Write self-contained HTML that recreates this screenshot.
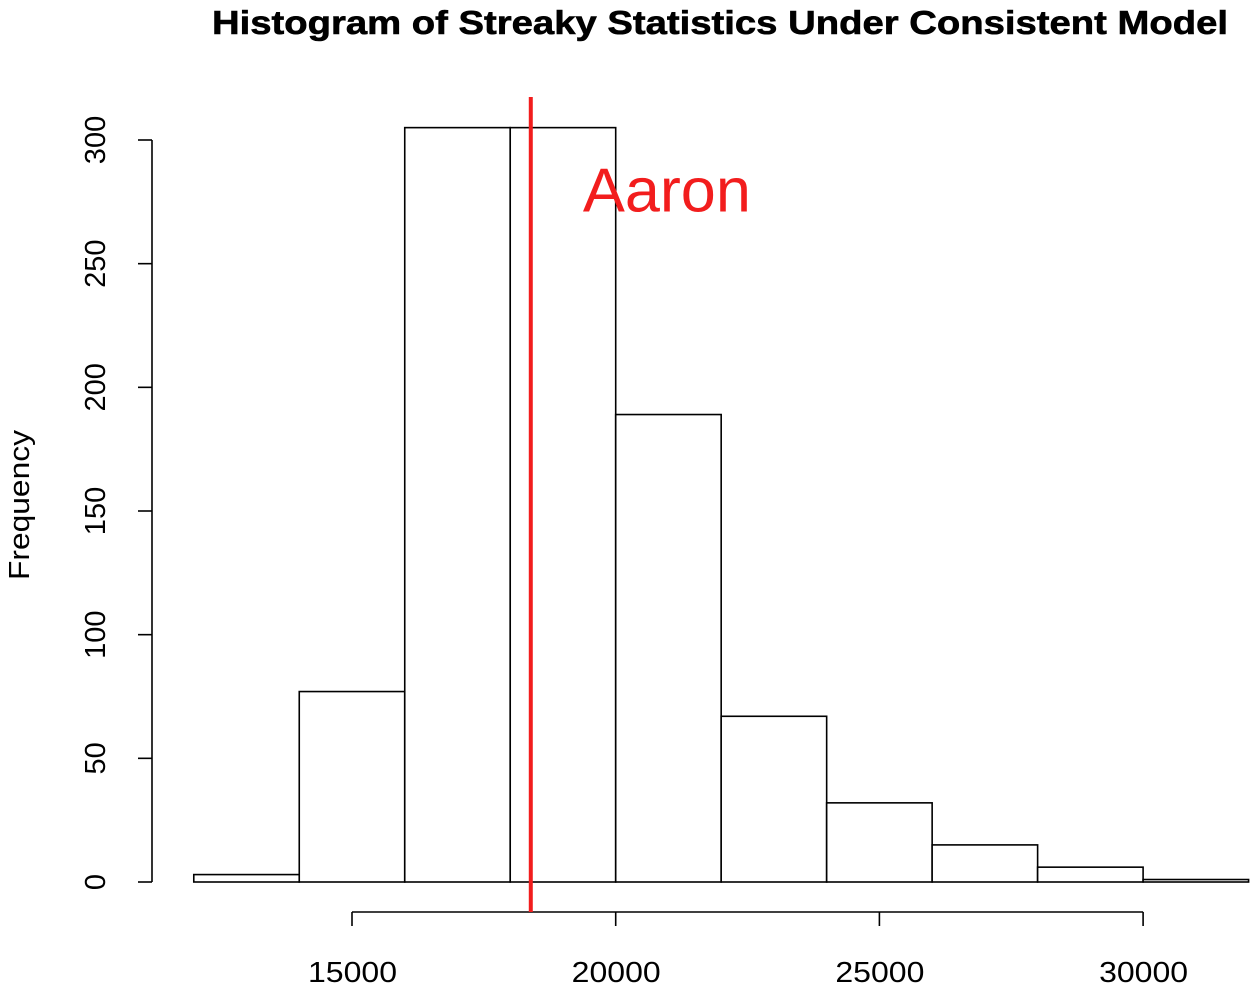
<!DOCTYPE html>
<html><head><meta charset="utf-8"><style>
html,body{margin:0;padding:0;background:#fff;}
svg{display:block;font-family:"Liberation Sans",Arial,sans-serif;}
</style></head><body>
<svg id="chart" width="1254" height="990" viewBox="0 0 1254 990">
<text x="212" y="34" textLength="1016" lengthAdjust="spacingAndGlyphs" font-size="33" font-weight="bold" fill="#000" stroke="#000" stroke-width="0.6">Histogram of Streaky Statistics Under Consistent Model</text>
<text transform="translate(29,505) rotate(-90)" text-anchor="middle" font-size="29" textLength="150" lengthAdjust="spacingAndGlyphs" fill="#000">Frequency</text>
<g id="bars"></g>
<g id="xaxis"></g>
<g id="yaxis"></g>
<g id="marker"></g>
</svg>
<script>
const binStarts = [12000,14000,16000,18000,20000,22000,24000,26000,28000,30000];
const binWidth = 2000;
const counts = [3,77,305,305,189,67,32,15,6,1];
const xTicks = [15000,20000,25000,30000];
const yTicks = [0,50,100,150,200,250,300];
const aaronValue = 18390;
const aaronLabel = "Aaron";
const aaronLabelX = 20970;
const aaronLabelY = 272;

const NS = "http://www.w3.org/2000/svg";
function x(v){ return 352 + (v-15000)*(263.7/5000); }
function y(v){ return 882 - v*(742/300); }
function mk(tag, attrs, parent){ const e=document.createElementNS(NS,tag); for(const k in attrs) e.setAttribute(k,attrs[k]); parent.appendChild(e); return e; }

const bars = document.getElementById('bars');
binStarts.forEach((s,i)=>{
  const r = mk('rect',{x:x(s),y:y(counts[i]),width:x(s+binWidth)-x(s),height:y(0)-y(counts[i]),fill:'#fff',stroke:'#000','stroke-width':1.6},bars);
  
  
});

const xa = document.getElementById('xaxis');
const xl = mk('line',{x1:x(xTicks[0]),x2:x(xTicks[xTicks.length-1]),y1:912,y2:912,stroke:'#000','stroke-width':1.6},xa);


xTicks.forEach(t=>{
  const tk = mk('line',{x1:x(t),x2:x(t),y1:912,y2:926,stroke:'#000','stroke-width':1.6},xa);
  
  
  const tx = mk('text',{x:x(t)-44,y:982,textLength:89,lengthAdjust:'spacingAndGlyphs','font-size':29,fill:'#000'},xa);
  tx.textContent = t;
  
  
});

const ya = document.getElementById('yaxis');
const yl = mk('line',{x1:152,x2:152,y1:y(yTicks[0]),y2:y(yTicks[yTicks.length-1]),stroke:'#000','stroke-width':1.6},ya);


yTicks.forEach(t=>{
  const tx = mk('text',{transform:`translate(105,${y(t)}) rotate(-90)`,'text-anchor':'middle','font-size':29,fill:'#000'},ya);
  tx.textContent = t;
  
  
  const tk = mk('line',{x1:138,x2:152,y1:y(t),y2:y(t),stroke:'#000','stroke-width':1.6},ya);
  
  
});

const m = document.getElementById('marker');
const ml = mk('line',{x1:x(aaronValue),x2:x(aaronValue),y1:97,y2:912,stroke:'#f21d1d','stroke-width':4},m);


const mt = mk('text',{x:x(aaronLabelX),y:y(aaronLabelY)+2,'text-anchor':'middle','font-size':62,textLength:168,lengthAdjust:'spacingAndGlyphs',fill:'#f21d1d'},m);
mt.textContent = aaronLabel;


</script>
</body></html>
